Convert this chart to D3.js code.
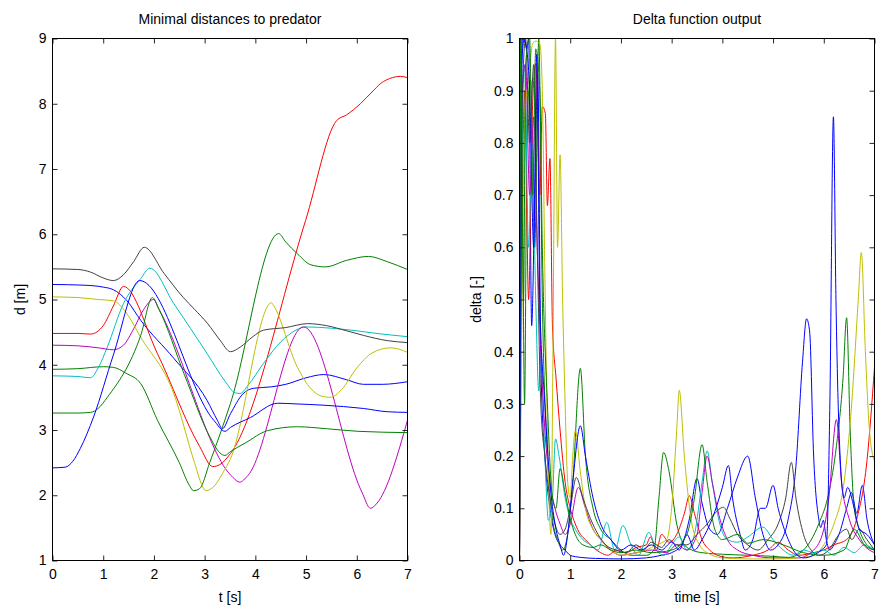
<!DOCTYPE html>
<html>
<head>
<meta charset="utf-8">
<script src="https://cdn.jsdelivr.net/npm/d3@7"></script>
<style>
  body { margin: 0; background: #fff; }
  text { font-family: "Liberation Sans", Arial, sans-serif; }
</style>
</head>
<body>
<svg id="chart" width="879" height="613"></svg>
<script>
// MATLAB default line order: b g r c m y k b g
const lineColors = ["#0000ff", "#008000", "#ff0000", "#00bfbf", "#bf00bf", "#bfbf00", "#404040", "#0000ff", "#008000"];

const timeTicks = [0, 1, 2, 3, 4, 5, 6, 7];
const distTicks = [1, 2, 3, 4, 5, 6, 7, 8, 9];
const deltaTicks = [0, 0.1, 0.2, 0.3, 0.4, 0.5, 0.6, 0.7, 0.8, 0.9, 1];

// left panel: minimal distance [t, d] per agent
const distBlue1 = [[0,5.23],[0.6,5.22],[1.0,5.19],[1.2,5.15],[1.47,4.98],[1.74,4.68],[2.39,4.1],[3.05,3.45],[3.25,3.15],[3.35,3.02],[3.51,3.25],[3.75,3.55],[3.97,3.64],[4.3,3.66],[4.6,3.7],[5.0,3.8],[5.35,3.85],[5.8,3.77],[6.13,3.7],[6.5,3.7],[7,3.74]];
const distGreen1 = [[0,3.93],[0.5,3.94],[1.0,3.97],[1.2,3.96],[1.45,3.87],[1.74,3.71],[2.07,3.15],[2.5,2.5],[2.7,2.15],[2.78,2.07],[2.9,2.1],[3.1,2.5],[3.51,3.41],[4.46,6.01],[4.6,5.88],[4.83,5.7],[5.1,5.53],[5.38,5.5],[5.8,5.6],[6.23,5.66],[6.6,5.58],[7,5.46]];
const distRed = [[0,4.48],[0.5,4.48],[0.75,4.47],[1.0,4.6],[1.2,4.9],[1.4,5.2],[2.07,4.17],[2.9,2.75],[3.16,2.44],[3.3,2.47],[3.51,2.64],[4.99,6.21],[5.6,7.74],[5.8,7.83],[6.07,8.0],[6.3,8.18],[6.47,8.31],[6.7,8.4],[6.86,8.42],[7,8.4]];
const distCyan = [[0,3.83],[0.5,3.82],[0.75,3.8],[0.9,3.95],[1.08,4.27],[1.4,4.94],[1.74,5.32],[1.92,5.48],[2.39,4.94],[3.05,4.17],[3.4,3.75],[3.6,3.57],[3.7,3.56],[3.85,3.68],[4.16,4.02],[4.5,4.35],[4.8,4.53],[5.0,4.58],[5.5,4.56],[6.0,4.52],[6.5,4.47],[7,4.43]];
const distMagenta = [[0,4.3],[0.5,4.29],[0.9,4.26],[1.2,4.23],[1.4,4.3],[1.6,4.55],[1.8,4.85],[1.99,5.0],[2.1,4.85],[3.55,2.28],[3.69,2.2],[3.85,2.3],[4.95,4.58],[6.1,2.05],[6.27,1.8],[6.4,1.88],[7,3.15]];
const distYellow = [[0,5.04],[0.5,5.03],[0.9,5.0],[1.2,4.98],[1.45,4.8],[1.74,4.42],[2.39,3.56],[2.8,2.5],[2.95,2.15],[3.02,2.07],[3.2,2.15],[3.35,2.33],[3.51,2.56],[4.32,4.95],[4.35,4.92],[4.83,3.96],[5.1,3.63],[5.3,3.52],[5.48,3.5],[5.7,3.62],[6.0,3.95],[6.3,4.18],[6.67,4.26],[7,4.19]];
const distBlack = [[0,5.47],[0.5,5.46],[0.75,5.42],[1.0,5.33],[1.2,5.29],[1.4,5.38],[1.6,5.58],[1.81,5.8],[2.2,5.4],[2.58,5.03],[2.8,4.85],[3.06,4.63],[3.3,4.38],[3.51,4.2],[3.7,4.27],[3.95,4.43],[4.16,4.53],[4.6,4.57],[5.03,4.63],[5.4,4.6],[5.8,4.52],[6.13,4.45],[6.6,4.37],[7,4.34]];
const distBlue2 = [[0,2.42],[0.25,2.43],[0.4,2.52],[0.55,2.72],[0.81,3.2],[1.2,4.15],[1.72,5.29],[3.18,3.15],[3.4,2.98],[3.51,3.04],[3.9,3.19],[4.44,3.41],[4.8,3.4],[5.35,3.38],[6.13,3.33],[6.6,3.28],[7,3.27]];
const distGreen2 = [[0,3.26],[0.5,3.26],[0.75,3.27],[0.9,3.33],[1.08,3.5],[1.74,4.45],[1.97,5.03],[2.1,4.85],[2.6,3.85],[3.1,2.9],[3.3,2.65],[3.4,2.61],[3.51,2.67],[3.8,2.8],[4.24,2.99],[4.83,3.05],[5.4,3.02],[6.02,2.98],[7,2.96]];
const distSeries = [distBlue1, distGreen1, distRed, distCyan, distMagenta, distYellow, distBlack, distBlue2, distGreen2];

// right panel: delta function output [t, delta] per agent
const deltaBlue1 = [[0,0],[0.04,0.95],[0.1,1.0],[0.14,0.98],[0.18,1.0],[0.24,0.45],[0.3,0.7],[0.36,0.93],[0.42,0.38],[0.5,0.2],[0.6,0.1],[0.7,0.05],[0.8,0.03],[0.9,0.02],[1.0,0.01],[1.2,0.006],[1.5,0.004],[2.0,0.003],[2.5,0.005],[2.8,0.01],[3.0,0.015],[3.2,0.03],[3.35,0.08],[3.5,0.157],[3.6,0.11],[3.75,0.06],[3.9,0.05],[4.1,0.1],[4.3,0.16],[4.5,0.2],[4.65,0.12],[4.8,0.05],[4.95,0.02],[5.1,0.03],[5.3,0.08],[5.45,0.18],[5.58,0.38],[5.66,0.463],[5.72,0.44],[5.8,0.2],[5.9,0.08],[5.94,0.063],[5.99,0.077],[6.05,0.04],[6.12,0.02],[6.2,0.03],[6.3,0.05],[6.45,0.1],[6.55,0.13],[6.65,0.09],[6.76,0.144],[6.85,0.08],[7,0.03]];
const deltaGreen1 = [[0,0],[0.03,1.0],[0.06,0.7],[0.1,0.3],[0.15,0.85],[0.22,0.92],[0.3,0.6],[0.38,1.0],[0.45,0.5],[0.55,0.2],[0.65,0.08],[0.75,0.04],[0.85,0.02],[0.95,0.05],[1.05,0.15],[1.2,0.368],[1.3,0.2],[1.45,0.1],[1.6,0.06],[1.8,0.04],[2.0,0.02],[2.2,0.01],[2.5,0.01],[2.65,0.02],[2.75,0.12],[2.84,0.207],[2.95,0.17],[3.1,0.07],[3.25,0.03],[3.4,0.02],[3.6,0.015],[4.0,0.012],[4.5,0.01],[5.0,0.008],[5.3,0.006],[5.6,0.02],[5.9,0.07],[6.1,0.13],[6.25,0.22],[6.38,0.35],[6.45,0.465],[6.52,0.25],[6.6,0.1],[6.7,0.06],[6.85,0.03],[7,0.02]];
const deltaRed = [[0,0],[0.05,0.6],[0.1,0.9],[0.18,0.5],[0.25,0.85],[0.32,0.952],[0.4,0.7],[0.45,0.87],[0.51,0.856],[0.55,0.68],[0.6,0.77],[0.65,0.45],[0.72,0.35],[0.8,0.25],[0.9,0.15],[1.0,0.1],[1.1,0.07],[1.2,0.05],[1.3,0.04],[1.45,0.025],[1.6,0.015],[1.75,0.01],[1.9,0.02],[2.1,0.015],[2.3,0.025],[2.5,0.03],[2.58,0.045],[2.7,0.02],[2.8,0.05],[2.95,0.035],[3.1,0.05],[3.25,0.09],[3.35,0.124],[3.45,0.09],[3.6,0.04],[3.75,0.02],[3.9,0.01],[4.2,0.005],[4.6,0.01],[4.9,0.02],[5.1,0.035],[5.3,0.02],[5.5,0.01],[5.8,0.015],[6.0,0.02],[6.2,0.03],[6.45,0.04],[6.65,0.08],[6.85,0.19],[7,0.37]];
const deltaCyan = [[0,0],[0.05,0.8],[0.1,0.95],[0.18,0.6],[0.25,0.8],[0.32,0.5],[0.38,0.325],[0.42,0.4],[0.5,0.2],[0.57,0.077],[0.65,0.12],[0.71,0.233],[0.78,0.2],[0.9,0.12],[1.0,0.08],[1.1,0.06],[1.25,0.04],[1.4,0.03],[1.55,0.02],[1.72,0.073],[1.88,0.02],[2.04,0.067],[2.2,0.03],[2.35,0.01],[2.55,0.054],[2.7,0.02],[2.85,0.01],[3.0,0.03],[3.15,0.045],[3.3,0.02],[3.45,0.05],[3.6,0.15],[3.7,0.21],[3.8,0.15],[3.95,0.07],[4.1,0.04],[4.3,0.035],[4.5,0.045],[4.8,0.064],[5.0,0.04],[5.2,0.02],[5.4,0.01],[5.6,0.02],[5.8,0.015],[6.0,0.02],[6.2,0.01],[6.4,0.025],[6.6,0.015],[6.8,0.03],[7,0.02]];
const deltaMagenta = [[0,0],[0.05,0.9],[0.12,0.95],[0.2,0.7],[0.28,0.85],[0.35,0.6],[0.42,0.4],[0.5,0.25],[0.6,0.15],[0.7,0.1],[0.8,0.07],[0.9,0.05],[1.0,0.07],[1.16,0.14],[1.3,0.1],[1.45,0.06],[1.6,0.04],[1.8,0.02],[2.0,0.01],[2.3,0.015],[2.6,0.02],[2.9,0.015],[3.1,0.03],[3.3,0.02],[3.5,0.05],[3.6,0.13],[3.7,0.2],[3.8,0.15],[3.95,0.08],[4.1,0.04],[4.3,0.02],[4.6,0.01],[5.0,0.005],[5.5,0.005],[5.8,0.02],[6.0,0.06],[6.1,0.12],[6.25,0.27],[6.35,0.15],[6.5,0.08],[6.7,0.04],[6.9,0.02],[7,0.015]];
const deltaYellow = [[0,0],[0.05,0.5],[0.1,0.85],[0.18,0.92],[0.26,0.99],[0.32,0.995],[0.4,0.99],[0.45,0.9],[0.5,0.55],[0.55,0.25],[0.62,0.05],[0.66,0.4],[0.71,1.0],[0.75,0.6],[0.8,0.777],[0.85,0.5],[0.9,0.3],[0.95,0.15],[1.0,0.12],[1.05,0.2],[1.1,0.249],[1.2,0.17],[1.3,0.1],[1.45,0.06],[1.6,0.04],[1.8,0.02],[2.0,0.01],[2.3,0.015],[2.5,0.02],[2.7,0.03],[2.9,0.04],[3.0,0.1],[3.1,0.25],[3.15,0.326],[3.25,0.2],[3.4,0.07],[3.55,0.03],[3.7,0.015],[4.0,0.005],[4.5,0.003],[5.0,0.003],[5.5,0.005],[5.8,0.01],[6.0,0.03],[6.2,0.07],[6.4,0.15],[6.55,0.3],[6.68,0.5],[6.74,0.59],[6.82,0.4],[6.9,0.25],[7,0.19]];
const deltaBlack = [[0,0],[0.06,0.9],[0.12,1.0],[0.2,0.8],[0.28,0.95],[0.35,0.6],[0.42,0.3],[0.5,0.2],[0.6,0.12],[0.7,0.07],[0.8,0.05],[0.9,0.06],[1.0,0.1],[1.12,0.159],[1.25,0.12],[1.4,0.08],[1.55,0.05],[1.7,0.03],[1.9,0.02],[2.1,0.015],[2.3,0.03],[2.45,0.02],[2.6,0.035],[2.8,0.025],[2.95,0.04],[3.1,0.03],[3.3,0.03],[3.5,0.05],[3.7,0.07],[3.85,0.09],[4.02,0.102],[4.15,0.08],[4.3,0.05],[4.5,0.03],[4.7,0.02],[4.9,0.04],[5.1,0.07],[5.25,0.12],[5.36,0.188],[5.45,0.12],[5.6,0.05],[5.75,0.02],[5.9,0.01],[6.1,0.02],[6.3,0.05],[6.45,0.06],[6.55,0.04],[6.7,0.06],[6.85,0.04],[7,0.02]];
const deltaBlue2 = [[0,0],[0.06,1.0],[0.12,0.99],[0.2,0.9],[0.28,0.6],[0.34,0.97],[0.4,0.5],[0.5,0.3],[0.6,0.15],[0.7,0.07],[0.8,0.03],[0.87,0.01],[0.95,0.05],[1.05,0.15],[1.2,0.258],[1.3,0.2],[1.45,0.12],[1.6,0.07],[1.8,0.04],[2.0,0.02],[2.2,0.03],[2.4,0.02],[2.6,0.03],[2.8,0.02],[3.0,0.035],[3.15,0.02],[3.3,0.05],[3.45,0.02],[3.6,0.04],[3.8,0.08],[4.0,0.14],[4.12,0.182],[4.2,0.12],[4.35,0.05],[4.45,0.02],[4.6,0.04],[4.75,0.1],[4.85,0.1],[5.0,0.144],[5.1,0.1],[5.3,0.04],[5.48,0.01],[5.6,0.005],[5.8,0.01],[5.95,0.02],[6.05,0.03],[6.12,0.3],[6.19,0.85],[6.24,0.5],[6.3,0.25],[6.4,0.12],[6.47,0.14],[6.6,0.1],[6.7,0.06],[6.85,0.05],[7,0.03]];
const deltaGreen2 = [[0,0],[0.02,1.0],[0.08,0.5],[0.12,0.95],[0.2,1.0],[0.26,0.7],[0.32,0.98],[0.4,0.9],[0.45,0.6],[0.55,0.3],[0.65,0.12],[0.72,0.1],[0.8,0.176],[0.9,0.13],[1.0,0.08],[1.1,0.05],[1.25,0.03],[1.45,0.025],[1.6,0.03],[1.8,0.02],[2.0,0.015],[2.3,0.02],[2.6,0.015],[3.0,0.02],[3.3,0.05],[3.45,0.12],[3.6,0.222],[3.7,0.15],[3.85,0.06],[4.0,0.04],[4.3,0.05],[4.5,0.033],[4.8,0.04],[5.2,0.03],[5.6,0.015],[6.0,0.01],[6.4,0.02],[6.6,0.06],[6.8,0.03],[7,0.02]];
const deltaSeries = [deltaBlue1, deltaGreen1, deltaRed, deltaCyan, deltaMagenta, deltaYellow, deltaBlack, deltaBlue2, deltaGreen2];

const svg = d3.select("#chart");

function drawPanel(p) {
    const x = d3.scaleLinear().domain([0, 7]).range([p.left, p.right]);
    const y = d3.scaleLinear().domain(p.yDomain).range([p.bottom, p.top]);
    const g = svg.append("g");

    g.append("defs").append("clipPath").attr("id", p.id)
        .append("rect")
        .attr("x", p.left).attr("y", p.top)
        .attr("width", p.right - p.left).attr("height", p.bottom - p.top);

    const line = d3.line()
        .x(d => x(d[0]))
        .y(d => y(d[1]))
        .curve(d3.curveMonotoneX);

    g.append("g").attr("clip-path", `url(#${p.id})`)
        .selectAll("path")
        .data(p.series)
        .enter().append("path")
        .attr("fill", "none")
        .attr("stroke", (d, i) => lineColors[i])
        .attr("stroke-width", 1)
        .attr("d", line);

    // ticks on all four sides, pointing inward
    const fmt = p.fmt || (d => d);
    g.append("g")
        .attr("transform", `translate(0,${p.bottom})`)
        .call(d3.axisBottom(x).tickValues(timeTicks).tickSize(-5).tickPadding(9).tickFormat(d => d));
    g.append("g")
        .attr("transform", `translate(0,${p.top})`)
        .call(d3.axisTop(x).tickValues(timeTicks).tickSize(-5).tickFormat(""));
    g.append("g")
        .attr("transform", `translate(${p.left},0)`)
        .call(d3.axisLeft(y).tickValues(p.yTicks).tickSize(-5).tickPadding(6).tickFormat(fmt));
    g.append("g")
        .attr("transform", `translate(${p.right},0)`)
        .call(d3.axisRight(y).tickValues(p.yTicks).tickSize(-5).tickFormat(""));

    g.selectAll(".domain").remove();
    g.selectAll(".tick line").attr("stroke", "#262626");
    g.selectAll(".tick text").attr("font-size", 14).attr("fill", "#000")
        .style("font-family", "'Liberation Sans', Arial, sans-serif");

    g.append("rect")
        .attr("x", p.left).attr("y", p.top)
        .attr("width", p.right - p.left).attr("height", p.bottom - p.top)
        .attr("fill", "none").attr("stroke", "#000").attr("stroke-width", 1);

    const cx = (p.left + p.right) / 2;
    g.append("text").attr("x", cx).attr("y", 24)
        .attr("text-anchor", "middle").attr("font-size", 14).text(p.title);
    g.append("text").attr("x", cx).attr("y", 602)
        .attr("text-anchor", "middle").attr("font-size", 14).text(p.xLabel);
    g.append("text")
        .attr("transform", `translate(${p.yLabelX},${(p.top + p.bottom) / 2}) rotate(-90)`)
        .attr("text-anchor", "middle").attr("font-size", 14).text(p.yLabel);
}

drawPanel({
    id: "clipLeft", left: 52.5, right: 407.5, top: 38.5, bottom: 560.5,
    yDomain: [1, 9], yTicks: distTicks, series: distSeries,
    title: "Minimal distances to predator", xLabel: "t [s]", yLabel: "d [m]", yLabelX: 25
});

drawPanel({
    id: "clipRight", left: 519.5, right: 874.5, top: 38.5, bottom: 560.5,
    yDomain: [0, 1], yTicks: deltaTicks, series: deltaSeries,
    fmt: d => d3.format("")(+d.toFixed(1)),
    title: "Delta function output", xLabel: "time [s]", yLabel: "delta [-]", yLabelX: 481
});
</script>
</body>
</html>
